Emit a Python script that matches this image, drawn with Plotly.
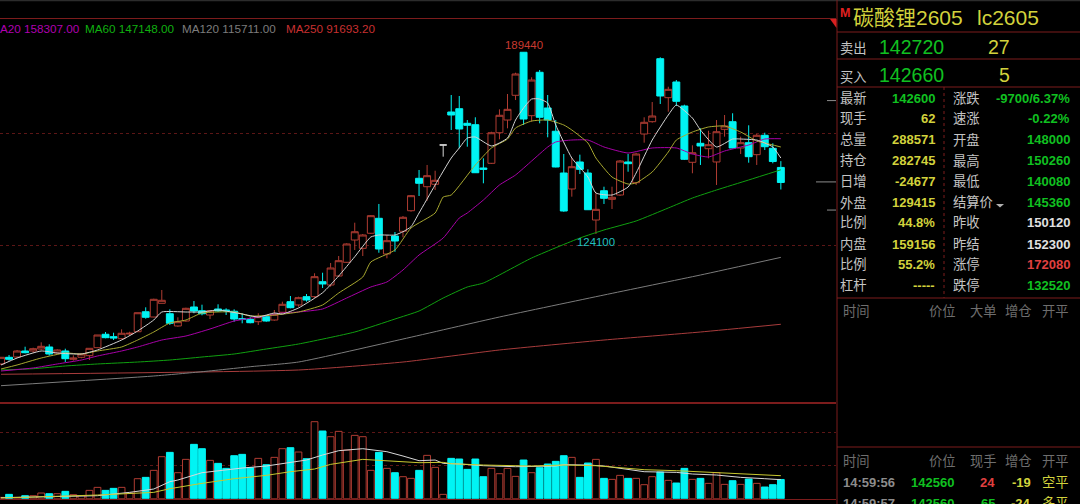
# 碳酸锂2605 K线 + 成交量 + 右侧盘口
import plotly.graph_objects as go

W = 1080
H = 504

# K线数据
day = list(range(98))
open_ = [77440, 79840, 79940, 82100, 82100, 82820, 83540, 81380, 82100, 79120,
         79840, 80420, 83280, 88100, 87240, 86520, 88200, 89020, 96200, 94300,
         99220, 95480, 91080, 92860, 97900, 96560, 95020, 97180, 96820, 96360,
         93700, 93480, 92620, 94420, 93220, 96000, 99800, 98620, 101600, 101600,
         106980, 105800, 109020, 113940, 121940, 118960, 124360, 129740, 116920, 123380,
         125080, 132460, 144100, 141080, 141940, 156060, 167900, 169080, 163840, 163340,
         147800, 149480, 160460, 165020, 173900, 189340, 166580, 182160, 169340, 160980,
         146000, 140260, 149960, 146000, 129120, 139640, 136560, 138100, 149960, 142520,
         160000, 164420, 187040, 173040, 178680, 170060, 149840, 156660, 154720, 149960,
         161680, 164420, 154980, 156880, 152580, 159540, 154860, 148000]
high = [79940, 80660, 82460, 83640, 83280, 85220, 84500, 82700, 82920, 80560,
        81280, 83060, 87840, 88920, 88660, 89880, 89020, 95840, 97780, 100880,
        104000, 97060, 94200, 97640, 100040, 98720, 96820, 98860, 97420, 97060,
        95640, 94200, 95640, 95020, 96820, 99800, 101840, 101600, 102560, 110000,
        110200, 113700, 116200, 120760, 128160, 124100, 130920, 134880, 123740, 124820,
        130560, 138100, 147080, 148880, 146820, 156060, 174000, 173640, 165020, 166000,
        151280, 160820, 168860, 174360, 182000, 189440, 180360, 182980, 174000, 165020,
        152820, 151280, 152580, 147320, 138720, 141080, 141080, 150660, 152820, 153280,
        166000, 171480, 187540, 176980, 179380, 170520, 155940, 162040, 161180, 165020,
        166820, 167440, 159040, 163120, 160000, 160460, 156660, 150260]
low = [77080, 78620, 79580, 81280, 81480, 82460, 80420, 81280, 78140, 78620,
       79480, 78860, 83180, 86660, 86040, 86300, 87480, 88920, 93700, 94200,
       99220, 91440, 90820, 92620, 95640, 94920, 93580, 96100, 95020, 92620,
       92040, 92040, 91440, 92620, 92980, 95840, 97420, 98000, 99800, 101020,
       104720, 105180, 108660, 113700, 118360, 116200, 124100, 117380, 115380, 117740,
       122920, 132100, 137740, 136060, 139900, 151860, 161440, 154860, 155440, 146000,
       142300, 149240, 158100, 162040, 172200, 163240, 164420, 163840, 158820, 148040,
       132100, 137500, 145640, 132720, 124100, 134880, 133080, 137740, 146460, 141700,
       156880, 164060, 170780, 168000, 170060, 150660, 145900, 148880, 151280, 141700,
       159040, 154860, 152820, 149700, 148880, 154260, 149480, 140080]
close = [79840, 79120, 82100, 81480, 82920, 83780, 81020, 82460, 79340, 79580,
         81020, 83060, 87840, 86880, 86760, 88460, 88460, 95840, 94200, 100660,
         100300, 92040, 92620, 97420, 96460, 95480, 96560, 96460, 96560, 93580,
         93480, 92260, 94420, 92860, 95280, 98860, 97640, 101240, 100400, 108780,
         106160, 111900, 114520, 120520, 124920, 123740, 130680, 118720, 121700, 121580,
         130100, 137860, 142300, 145040, 143380, 156060, 166820, 161800, 163120, 146100,
         147320, 160460, 166720, 168860, 181540, 165380, 179380, 166000, 165020, 148160,
         132360, 148260, 147320, 132820, 132960, 136920, 137280, 150300, 149340, 152820,
         164200, 166460, 173640, 176040, 171740, 150920, 153280, 155700, 156160, 160820,
         162880, 154980, 156880, 151860, 159540, 155440, 150120, 142600]

# 成交量
volume = [20000, 65000, 20000, 45000, 45000, 85000, 75000, 75000, 110000, 60000,
          45000, 125000, 170000, 125000, 155000, 170000, 85000, 300000, 320000, 425000,
          630000, 695000, 390000, 590000, 815000, 750000, 575000, 530000, 455000, 645000,
          665000, 465000, 605000, 510000, 620000, 750000, 765000, 700000, 600000, 1155000,
          1015000, 930000, 1010000, 730000, 950000, 930000, 425000, 695000, 455000, 390000,
          330000, 305000, 425000, 650000, 470000, 65000, 605000, 595000, 440000, 595000,
          330000, 455000, 375000, 455000, 335000, 580000, 390000, 465000, 520000, 560000,
          645000, 620000, 320000, 535000, 590000, 305000, 290000, 350000, 305000, 305000,
          210000, 330000, 400000, 275000, 235000, 455000, 290000, 305000, 230000, 390000,
          215000, 270000, 215000, 295000, 230000, 175000, 210000, 288571]

# 均线(按读到的K线序号取点)
ma5_day = [0, 2, 5, 7, 10, 12, 15, 17, 19, 20, 23, 25, 27, 30, 32, 34, 35, 37, 40, 42,
           44, 46, 47, 49, 50, 51, 52, 54, 56, 57, 58, 59, 61, 63, 64, 65, 66, 67, 68, 69,
           71, 73, 74, 76, 78, 79, 81, 83, 84, 86, 87, 89, 91, 92, 94, 95, 96, 97]
ma5 = [77080, 79580, 82100, 81380, 81020, 82460, 86040, 89280, 93220, 96100, 96100, 96100,
       96820, 95380, 94300, 95740, 95380, 97540, 103000, 109020, 115950, 123020, 123740,
       123740, 124920, 126720, 131640, 141700, 151380, 154980, 158560, 158920, 155700,
       158560, 165020, 169340, 172560, 172560, 171120, 163240, 151380, 144560, 138820,
       138100, 140980, 146000, 157840, 166820, 170400, 165740, 161440, 155340, 158200,
       158200, 157840, 156780, 155340, 151380]
ma10_day = [0, 2, 5, 8, 10, 12, 15, 17, 19, 21, 23, 25, 29, 31, 34, 37, 40, 42, 45, 46,
            49, 51, 54, 55, 56, 59, 61, 63, 64, 66, 68, 70, 71, 73, 74, 76, 78, 79, 81,
            83, 84, 86, 88, 90, 92, 94, 95, 97]
ma10 = [75640, 77080, 79580, 81380, 81020, 82100, 83540, 86040, 88920, 92160, 93220, 95740,
        96100, 94660, 95020, 96100, 98620, 102920, 108660, 114060, 118360, 126260, 131640,
        137380, 138100, 148880, 154980, 158200, 162160, 164660, 165020, 163240, 161440,
        156780, 151380, 144560, 142040, 142420, 146360, 153540, 157840, 160720, 162520,
        162880, 160720, 157480, 156780, 155340]
ma20_day = [0, 4, 7, 10, 12, 15, 17, 20, 23, 26, 29, 32, 35, 37, 40, 43, 46, 48, 50, 52,
            55, 57, 58, 60, 62, 64, 66, 68, 69, 71, 73, 75, 78, 81, 84, 86, 88, 90, 93,
            95, 97]
ma20 = [74920, 76000, 77440, 78860, 80300, 82100, 83540, 86040, 87480, 90000, 92860, 94300,
        95740, 96100, 97180, 101120, 105080, 106880, 111180, 116560, 122660, 129840, 131640,
        136300, 141700, 145280, 150300, 155340, 157140, 157840, 157840, 155340, 153180,
        154980, 154980, 152820, 151740, 153900, 156060, 158200, 158307]
ma60_day = [0, 4, 8, 12, 17, 21, 25, 29, 33, 37, 44, 49, 52, 55, 58, 60, 66, 72, 75, 79,
            83, 86, 89, 93, 97]
ma60 = [75280, 75740, 76720, 77440, 78140, 78860, 79940, 81020, 82820, 84600, 88920, 93580,
        96460, 101120, 105080, 106500, 115480, 122660, 125540, 128780, 133440, 137020,
        139900, 143500, 147148]
ma120_day = [0, 19, 25, 31, 37, 50, 62, 75, 87, 97]
ma120 = [69640, 73120, 74660, 76460, 78140, 86400, 94300, 102200, 109380, 115711]
ma250_day = [0, 37, 50, 62, 75, 87, 97]
ma250 = [73740, 75280, 78140, 82460, 86040, 88920, 91693]

# 成交量均线
vol_ma5_day = [0, 8, 12, 16, 19, 21, 22, 25, 27, 30, 33, 36, 38, 40, 42, 45, 48, 50, 52, 54,
               55, 57, 60, 64, 66, 69, 70, 73, 75, 78, 80, 84, 86, 89, 92, 95, 97]
vol_ma5 = [15000, 30000, 45000, 95000, 145000, 255000, 280000, 390000, 420000, 460000,
           490000, 540000, 580000, 655000, 720000, 750000, 705000, 640000, 570000, 580000,
           530000, 520000, 495000, 480000, 480000, 490000, 510000, 505000, 490000, 445000,
           405000, 395000, 370000, 355000, 320000, 300000, 285000]
vol_ma10_day = [0, 6, 12, 19, 21, 25, 29, 33, 36, 39, 41, 45, 50, 52, 55, 56, 60, 66, 70, 74,
                77, 80, 84, 88, 92, 97]
vol_ma10 = [10000, 30000, 55000, 95000, 150000, 230000, 300000, 350000, 405000, 445000,
            515000, 590000, 560000, 540000, 545000, 525000, 505000, 490000, 505000, 495000,
            465000, 435000, 420000, 400000, 375000, 345000]

price_grid = [120150, 160360]
volume_grid = [500000, 1000000]
price_marks = [172000, 142800, 132700]
peak_day = 65
trough_day = 74

# 右侧盘口文字
left_labels = ["最新", "现手", "总量", "持仓", "日增", "外盘", "比例", "内盘", "比例", "杠杆"]
left_values = ["142600", "62", "288571", "282745", "-24677", "129415", "44.8%", "159156", "55.2%", "-----"]
right_labels = ["涨跌", "速涨", "开盘", "最高", "最低", "结算价", "昨收", "昨结", "涨停", "跌停"]
right_values = ["-9700/6.37%", "-0.22%", "148000", "150260", "140080", "145360", "150120", "152300", "172080", "132520"]
row_y = [98.5, 118.5, 139.5, 160.5, 181, 202.5, 222.7, 244, 264.3, 285.3]

RED = "#b03c32"
CYAN = "#00f4f4"
GREEN = "#10c020"
YELLOW = "#d2d23c"
LIGHT = "#c4c4c4"
GREY = "#6e6e6e"
BORDER = "#7c1c1c"
FONT = "Liberation Sans, Noto Sans CJK SC"
right_colors = [GREEN, GREEN, GREEN, GREEN, GREEN, GREEN, "#e0e0e0", "#e0e0e0", "#e04040", GREEN]

is_flat = [o == c for o, c in zip(open_, close)]
is_up = [c >= o for o, c in zip(open_, close)]


def pick(values, flat):
    return [v for v, f in zip(values, is_flat) if f == flat]


fig = go.Figure()

# 主图K线, 平盘的T字线单独画成白色
fig.add_trace(go.Candlestick(
    x=pick(day, False), open=pick(open_, False), high=pick(high, False),
    low=pick(low, False), close=pick(close, False),
    increasing={"line": {"color": RED, "width": 1}, "fillcolor": "#000000"},
    decreasing={"line": {"color": CYAN, "width": 1}, "fillcolor": CYAN},
    xaxis="x", yaxis="y"))
fig.add_trace(go.Candlestick(
    x=pick(day, True), open=pick(open_, True), high=pick(high, True),
    low=pick(low, True), close=pick(close, True),
    increasing={"line": {"color": "#d8d8d8", "width": 1}, "fillcolor": "#000000"},
    decreasing={"line": {"color": "#d8d8d8", "width": 1}, "fillcolor": "#000000"},
    xaxis="x", yaxis="y"))

for xs, ys, color in [(ma250_day, ma250, "#a83c3c"), (ma120_day, ma120, "#7c7c7c"),
                      (ma60_day, ma60, "#10a010"), (ma20_day, ma20, "#a800a8"),
                      (ma10_day, ma10, "#a8a830"), (ma5_day, ma5, "#d4d4d4")]:
    fig.add_trace(go.Scatter(x=xs, y=ys, mode="lines", xaxis="x", yaxis="y",
                             line={"color": color, "width": 1, "shape": "spline", "smoothing": 0.5}))

# 副图成交量
fig.add_trace(go.Bar(
    x=day, y=volume, width=0.84, xaxis="x2", yaxis="y2",
    marker={"color": ["#000000" if u else CYAN for u in is_up],
            "line": {"color": [RED if u else CYAN for u in is_up], "width": 1}}))
fig.add_trace(go.Scatter(x=vol_ma5_day, y=vol_ma5, mode="lines", xaxis="x2", yaxis="y2",
                         line={"color": "#d8d8d8", "width": 1}))
fig.add_trace(go.Scatter(x=vol_ma10_day, y=vol_ma10, mode="lines", xaxis="x2", yaxis="y2",
                         line={"color": "#c8c830", "width": 1}))

annotations = []
shapes = []


def label(x, y, text, color, size=13.3, anchor="left", bold=False):
    # x, y 为屏幕像素位置
    annotations.append(dict(
        xref="paper", yref="paper", x=x / W, y=1 - y / H, text=f"<b>{text}</b>" if bold else text,
        showarrow=False, xanchor=anchor, yanchor="middle", borderpad=0,
        font={"family": FONT, "size": size, "color": color}))


def hline(x0, x1, y, color=BORDER, width=1, dash="solid"):
    shapes.append(dict(type="line", xref="paper", yref="paper", x0=x0 / W, x1=x1 / W,
                       y0=1 - y / H, y1=1 - y / H, line={"color": color, "width": width, "dash": dash}))


def vline(x, y0, y1, color=BORDER, width=1, dash="solid"):
    shapes.append(dict(type="line", xref="paper", yref="paper", x0=x / W, x1=x / W,
                       y0=1 - y0 / H, y1=1 - y1 / H, line={"color": color, "width": width, "dash": dash}))


# 均线数值
label(-1, 28, "A20 158307.00", "#b000b0", 11.7)
label(84, 28, "MA60 147148.00", "#10b010", 11.7)
label(181, 28, "MA120 115711.00", "#7c7c7c", 11.7)
label(285, 28, "MA250 91693.20", "#c83030", 11.7)

# 最高最低价标注
annotations.append(dict(x=peak_day, y=high[peak_day], xref="x", yref="y", text=str(high[peak_day]),
                        showarrow=False, yshift=7, font={"family": FONT, "size": 11.4, "color": "#c83a30"}))
annotations.append(dict(x=trough_day, y=low[trough_day], xref="x", yref="y", text=str(low[trough_day]),
                        showarrow=False, yshift=-8, font={"family": FONT, "size": 11.4, "color": "#20c0c0"}))

# 右侧标题和买卖盘
label(839, 12.5, "M", "#e02020", 12.5, bold=True)
label(852, 18, "碳酸锂2605", YELLOW, 21)
label(975.5, 18, "lc2605", YELLOW, 21)
label(839, 49, "卖出", LIGHT)
label(878, 46.5, "142720", GREEN, 19.5)
label(1011, 46.5, "27", YELLOW, 19.5, "right")
label(839, 77, "买入", LIGHT)
label(878, 75, "142660", GREEN, 19.5)
label(1011, 75, "5", YELLOW, 19.5, "right")

for i, y in enumerate(row_y):
    label(839, y, left_labels[i], LIGHT)
    label(936, y, left_values[i], GREEN if i == 0 else YELLOW, 13, "right", True)
    label(952.3, y, right_labels[i], LIGHT)
    label(1070.7, y, right_values[i], right_colors[i], 13, "right", True)

# 逐笔区域
for x, text in [(842, "时间"), (928, "价位"), (969, "大单"), (1004, "增仓"), (1040.7, "开平")]:
    label(x, 311.7, text, GREY)
for x, text in [(842, "时间"), (928, "价位"), (969, "现手"), (1004, "增仓"), (1040.7, "开平")]:
    label(x, 461, text, GREY)
label(842, 482.5, "14:59:56", "#8c8c8c", 13, bold=True)
label(955, 482.5, "142560", GREEN, 13, "right", True)
label(996, 482.5, "24", "#e04040", 13, "right", True)
label(1032, 482.5, "-19", YELLOW, 13, "right", True)
label(1040.7, 482.5, "空平", YELLOW)
label(842, 503, "14:59:57", "#8c8c8c", 13, bold=True)
label(955, 503, "142560", GREEN, 13, "right", True)
label(996, 503, "65", GREEN, 13, "right", True)
label(1032, 503, "-24", YELLOW, 13, "right", True)
label(1040.7, 503, "多平", YELLOW)

# 边框和分隔线
hline(0, W, 0.5, "#2c2c2c", 1.5)
vline(837, 0, H)
hline(837, W, 32)
hline(837, W, 59)
hline(837, W, 87)
hline(837, W, 298)
hline(837, W, 447)
vline(944, 87, 298, BORDER, 1, "dot")
for p, x0 in zip(price_marks, [827, 816, 827]):
    shapes.append(dict(type="line", xref="paper", yref="y", x0=x0 / W, x1=836 / W, y0=p, y1=p,
                       line={"color": "#8c8c8c", "width": 1}))
shapes.append(dict(type="path", xref="paper", yref="paper",
                   path=f"M {830 / W} {1 - 19 / H} L {836.5 / W} {1 - 19 / H} L {836.5 / W} {1 - 28 / H} Z",
                   fillcolor="#d82020", line={"width": 0}))
shapes.append(dict(type="path", xref="paper", yref="paper",
                   path=f"M {996 / W} {1 - 204 / H} L {1004 / W} {1 - 204 / H} L {1000 / W} {1 - 207.5 / H} Z",
                   fillcolor="#b0b0b0", line={"width": 0}))

x_range = [-0.124, 103.86]
axis_x = dict(range=x_range, showticklabels=False, ticks="", showgrid=False, zeroline=False,
              showline=True, linecolor=BORDER, linewidth=1, mirror=True, rangeslider={"visible": False})
grid = dict(showticklabels=False, ticks="", showgrid=True, gridcolor="#5c1616", griddash="dot",
            gridwidth=1, zeroline=False, showline=False)

layout = go.Layout(
    width=W, height=H, autosize=False, showlegend=False,
    margin={"l": 0, "r": 0, "t": 0, "b": 0, "pad": 0},
    paper_bgcolor="#000000", plot_bgcolor="#000000",
    boxgap=0.14, boxgroupgap=0, barmode="overlay",
    xaxis={**axis_x, "domain": [0, 836 / W], "anchor": "y"},
    xaxis2={**axis_x, "domain": [0, 836 / W], "anchor": "y2"},
    yaxis={**grid, "domain": [1 - 403 / H, 1 - 19 / H], "range": [63431, 201287],
           "tickvals": price_grid, "anchor": "x"},
    yaxis2={**grid, "domain": [1 - 498.7 / H, 1 - 403 / H], "range": [0, 1435500],
            "tickvals": volume_grid, "anchor": "x2"},
    annotations=annotations, shapes=shapes)
fig.update_layout(layout)
fig.update_traces(hoverinfo="skip")

fig.write_html("out.html", config={"displayModeBar": False}, post_script="document.body.style.margin='0';")
